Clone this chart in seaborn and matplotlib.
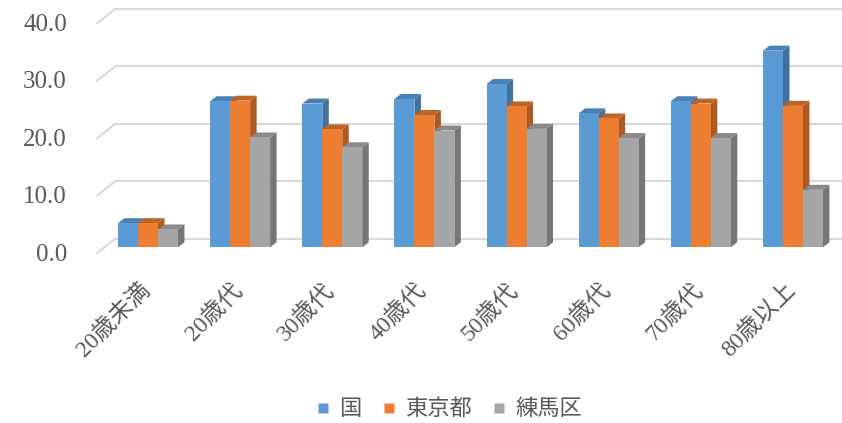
import numpy as np
import pandas as pd
import matplotlib
matplotlib.use("Agg")
import matplotlib.pyplot as plt
import matplotlib.transforms as mtransforms
from matplotlib.patches import Polygon
from matplotlib.lines import Line2D
import seaborn as sns

# Data: share (%) by age group
categories = ["20歳未満", "20歳代", "30歳代", "40歳代", "50歳代", "60歳代", "70歳代", "80歳以上"]
series_names = ["国", "東京都", "練馬区"]
kuni = [4.2, 25.4, 25.0, 25.8, 28.4, 23.3, 25.4, 34.2]
tokyo = [4.2, 25.5, 20.5, 23.0, 24.5, 22.4, 25.0, 24.6]
nerima = [3.1, 19.1, 17.4, 20.3, 20.6, 19.0, 19.0, 10.0]
y_ticks = [0, 10, 20, 30, 40]

front_colors = ["#5B9BD5", "#ED7D31", "#A5A5A5"]
side_colors = ["#41719C", "#AE5A21", "#767676"]
top_colors = ["#4A80B4", "#BE6426", "#8A8A8A"]
text_color = "#595959"
grid_color = "#D9D9D9"

df = pd.DataFrame({
    "age": categories * 3,
    "series": np.repeat(series_names, len(categories)),
    "value": kuni + tokyo + nerima,
})

sns.set_theme(style="white")
plt.rcParams["font.family"] = ["Liberation Serif", "Noto Sans CJK JP", "DejaVu Sans"]

W, H, DPI = 842, 423, 100
fig = plt.figure(figsize=(W / DPI, H / DPI), dpi=DPI)

# axes frame in pixels: bar front plane
left_px, right_px = 97, 842
base_px, top_px = 247.3, 17.3  # y (from top) of value 0 and 40
ax = fig.add_axes([left_px / W, (H - base_px) / H,
                   (right_px - left_px) / W, (base_px - top_px) / H])

group_step_px = 92.14
first_center_px = 148
xmin = -(first_center_px - left_px) / group_step_px
xmax = xmin + (right_px - left_px) / group_step_px

sns.barplot(data=df, x="age", y="value", hue="series", hue_order=series_names,
            order=categories, palette=front_colors, width=0.65, gap=0,
            saturation=1, legend=False, ax=ax, linewidth=0)

ax.set_xlim(xmin, xmax)
ax.set_ylim(0, 40)
for s in ax.spines.values():
    s.set_visible(False)
ax.set_xlabel("")
ax.set_ylabel("")

# pixel -> data unit conversion
ux = 1.0 / group_step_px            # data x per px
uy = 40.0 / (base_px - top_px)      # data y per px

# 3D depth of the bars
bdx, bdy = 6.5 * ux, 5.0 * uy

# back-wall and floor offsets for the grid
back_dy = 8.3 * uy
front_dy = -6.0 * uy

# gridlines: back wall lines plus the diagonal at the left edge
x_back_start = xmin + 18 * ux
for v in y_ticks:
    ax.add_line(Line2D([x_back_start, xmax + 1], [v + back_dy, v + back_dy],
                       color=grid_color, lw=1.5, zorder=0.5, clip_on=False))
    ax.add_line(Line2D([xmin, x_back_start], [v + front_dy, v + back_dy],
                       color=grid_color, lw=1.5, zorder=0.5, clip_on=False))

# add side and top faces to every bar, drawn left to right
patches = sorted(list(ax.patches), key=lambda p: p.get_x())
for i, p in enumerate(patches):
    x0, w, h = p.get_x(), p.get_width(), p.get_height()
    fc = matplotlib.colors.to_hex(p.get_facecolor())
    k = [c.lower() for c in front_colors].index(fc.lower())
    z = 2 + i * 0.01
    side = Polygon([(x0 + w, 0), (x0 + w + bdx, bdy), (x0 + w + bdx, h + bdy), (x0 + w, h)],
                   closed=True, facecolor=side_colors[k], edgecolor="none", zorder=z, clip_on=False)
    top = Polygon([(x0, h), (x0 + bdx, h + bdy), (x0 + w + bdx, h + bdy), (x0 + w, h)],
                  closed=True, facecolor=top_colors[k], edgecolor="none", zorder=z + 0.001, clip_on=False)
    ax.add_patch(side)
    ax.add_patch(top)
    p.set_zorder(z + 0.005)
    p.set_clip_on(False)

# y ticks
ax.set_yticks(y_ticks)
ax.set_yticklabels([f"{v:.1f}" for v in y_ticks])
ax.tick_params(axis="y", length=0, pad=(left_px - 67) * 0.72, labelsize=18, labelcolor=text_color)
shift = mtransforms.ScaledTranslation(0, -5 / DPI, fig.dpi_scale_trans)
for lab in ax.get_yticklabels():
    lab.set_transform(lab.get_transform() + shift)

# x ticks: rotated, ending just below each group
ax.tick_params(axis="x", length=0, pad=23, labelsize=17, labelcolor=text_color)
xshift = mtransforms.ScaledTranslation(-9 / DPI, 0, fig.dpi_scale_trans)
for lab in ax.get_xticklabels():
    lab.set_rotation(45)
    lab.set_ha("right")
    lab.set_va("top")
    lab.set_rotation_mode("anchor")
    lab.set_transform(lab.get_transform() + xshift)

# legend
handles = [Line2D([], [], marker="s", linestyle="none", markersize=7.2,
                  markerfacecolor=c, markeredgecolor="none") for c in front_colors]
fig.legend(handles, series_names, loc="center", bbox_to_anchor=(450 / W, 13 / H),
           ncol=3, frameon=False, fontsize=16, labelcolor=text_color,
           handlelength=0.45, handletextpad=0.5, columnspacing=1.0, borderpad=0)

fig.savefig("out.png", dpi=DPI)
